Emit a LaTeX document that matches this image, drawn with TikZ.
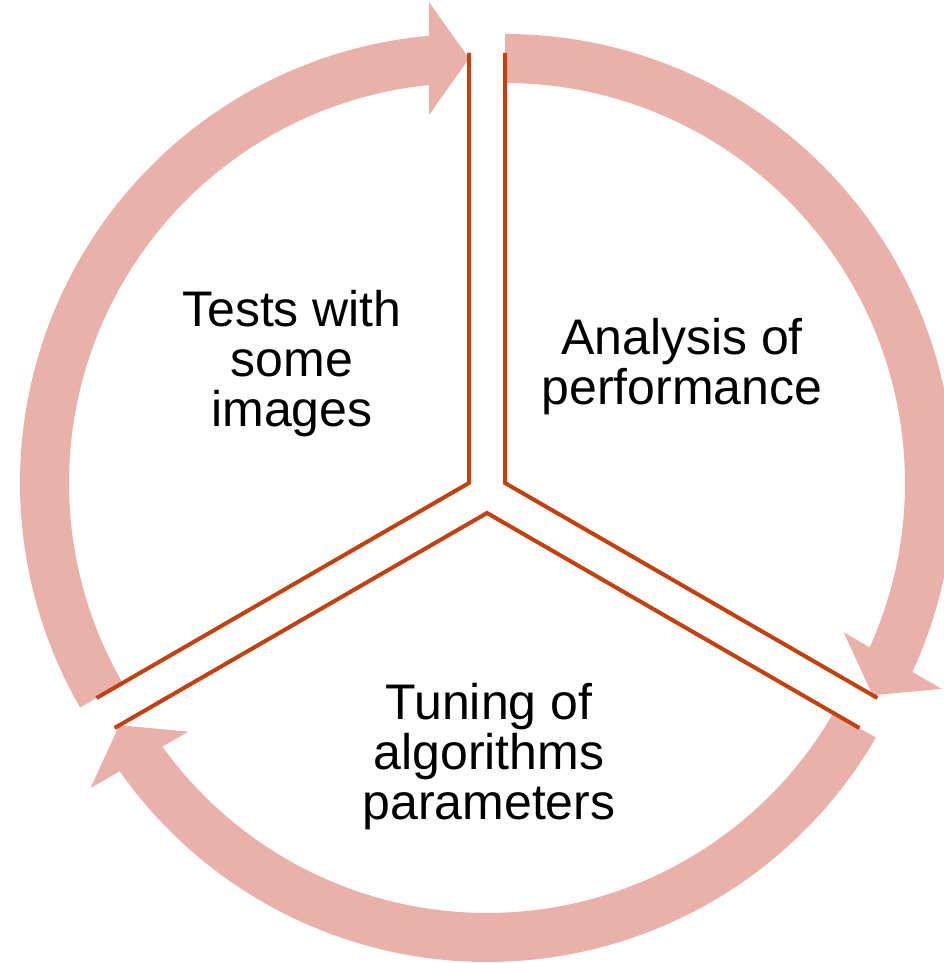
\documentclass[tikz,border=0pt]{standalone}
\usepackage{fontspec}
\setmainfont{Liberation Sans}
\usetikzlibrary{calc}
\definecolor{ringpink}{RGB}{234,176,170}
\definecolor{edgered}{RGB}{196,64,16}
\tikzset{
  % curved block arrow: tail at 210 deg, tip at 90 deg, around the origin
  arrowbody/.pic={
    \fill[ringpink]
      (210:449) arc[start angle=210, end angle=95.11, radius=449]
      -- (-40,481) -- (0,424.5) -- (-40,368)
      -- (95.74:400) arc[start angle=95.74, end angle=210, radius=400]
      -- cycle;
  },
  sectoredge/.style={draw=edgered, line width=4pt, line join=miter},
  cycletext/.style={font=\fontsize{50}{50}\selectfont, align=center,
    anchor=base, inner sep=0pt}
}
\begin{document}
\begin{tikzpicture}[x=1pt,y=1pt]
\useasboundingbox (0,0) rectangle (943,963);
\fill[white] (0,0) rectangle (943,963);

% apexes of the three separated sectors
\coordinate (vl) at (469,480);
\coordinate (vr) at (505,480);
\coordinate (vb) at (487,450);

% circular arrows, each around its own sector
\pic at (vl) {arrowbody};
\pic[rotate=-120] at (vr) {arrowbody};
\pic[rotate=120] at (vb) {arrowbody};

% straight edges of the sectors
\draw[sectoredge] ($(vl)+(90:430)$) -- (vl) -- ($(vl)+(210:430)$);
\draw[sectoredge] ($(vr)+(90:430)$) -- (vr) -- ($(vr)+(-30:430)$);
\draw[sectoredge] ($(vb)+(210:430)$) -- (vb) -- ($(vb)+(-30:430)$);

% sector captions (placed by the baseline of their last line)
\node[cycletext] (tests) at (292,536) {Tests with\\some\\images};
\node[cycletext] (analysis) at (682,558) {Analysis of\\performance};
\node[cycletext] (tuning) at (489,143) {Tuning of\\algorithms\\parameters};
\end{tikzpicture}
\end{document}
